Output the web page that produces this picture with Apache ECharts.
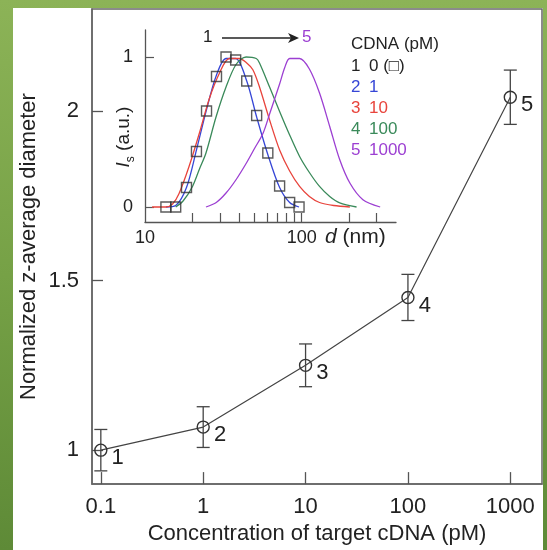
<!DOCTYPE html>
<html>
<head>
<meta charset="utf-8">
<script src="https://cdn.jsdelivr.net/npm/echarts@6/dist/echarts.min.js"></script>
<style>
html, body { margin: 0; padding: 0; }
body { width: 547px; height: 550px; position: relative; overflow: hidden;
       background: linear-gradient(180deg, #8cb357 0%, #76a146 50%, #5e8a37 100%); }
#panel { position: absolute; left: 13px; top: 8px; width: 530px; height: 542px; background: #fff; }
#main { position: absolute; left: 0; top: 0; width: 547px; height: 550px; }
</style>
</head>
<body>
<div id="panel"></div>
<div id="main"></div>
<script>
// main plot: concentration (pM) vs normalized z-average diameter
var concValues = [0.1, 1, 10, 100, 1000];
var concLabels = ['0.1', '1', '10', '100', '1000'];
var zDiameter = [1.0, 1.068, 1.25, 1.45, 2.04];
var zError = [0.061, 0.06, 0.063, 0.068, 0.08];
var pointTags = ['1', '2', '3', '4', '5'];
var zTicks = [1, 1.5, 2];

// inset: scattering intensity vs d (nm)
var dLabelTicks = [10, 100];
var dMinorTicks = [20, 30, 40, 50, 60, 70, 80, 90, 100, 200, 300];
var isTicks = [0, 1];

var sqD = [13.6, 15.7, 18.4, 21.3, 24.7, 28.6, 32.9, 37.9, 44.6, 51.6, 60.8, 72.3, 83.8, 96.2];
var sqI = [0, 0, 0.13, 0.37, 0.64, 0.87, 1.0, 0.98, 0.84, 0.61, 0.36, 0.14, 0.03, 0];
var blueI = [0, 0.01, 0.13, 0.38, 0.65, 0.88, 0.99, 0.99, 0.84, 0.6, 0.35, 0.13, 0.03, 0];

var redD = [11.1, 13.6, 15.0, 16.5, 19.1, 22.2, 25.7, 29.8, 34.5, 40, 44.6, 48.8, 53.8, 62.4, 72.3, 83.8, 97, 112, 130, 160, 203];
var redI = [0, 0, 0.02, 0.09, 0.27, 0.49, 0.72, 0.89, 0.99, 0.99, 0.96, 0.915, 0.80, 0.58, 0.38, 0.24, 0.137, 0.07, 0.03, 0.01, 0];

var greenD = [15.7, 17.5, 20.1, 22.2, 24.5, 28.4, 32.9, 38.1, 44.2, 51.3, 53.8, 62.4, 72.3, 83.8, 97, 112, 130, 151, 175, 224];
var greenI = [0, 0.04, 0.137, 0.25, 0.36, 0.6, 0.80, 0.95, 1.0, 0.99, 0.96, 0.80, 0.637, 0.48, 0.337, 0.23, 0.137, 0.07, 0.027, 0];

var purpleD = [24.5, 28.5, 32.9, 38, 44.2, 50, 56.6, 62.4, 72.3, 78, 83.8, 97, 112, 130, 151, 175, 203, 246, 317];
var purpleI = [0, 0.03, 0.093, 0.18, 0.29, 0.39, 0.49, 0.62, 0.82, 0.93, 0.99, 0.99, 0.92, 0.76, 0.537, 0.315, 0.16, 0.049, 0];

var legendNum = ['1', '2', '3', '4', '5'];
var legendConc = ['0 (\u25A1)', '1', '10', '100', '1000'];
var legendColors = ['#222222', '#3646d6', '#e8443c', '#3a8a5a', '#9c3fd2'];

function lg(v) { return Math.log10(v); }
function zip(xs, ys) {
    return xs.map(function (x, i) { return [lg(x), ys[i]]; });
}

var dom = document.getElementById('main');
var myChart = echarts.init(dom, null, { renderer: 'canvas' });

var fontFam = '"Liberation Sans", Arial, sans-serif';

var mainData = concValues.map(function (c, i) { return [lg(c), zDiameter[i]]; });
var errData = concValues.map(function (c, i) { return [lg(c), zDiameter[i] - zError[i], zDiameter[i] + zError[i]]; });

function renderErrorBar(params, api) {
    var x = api.value(0);
    var lo = api.coord([x, api.value(1)]);
    var hi = api.coord([x, api.value(2)]);
    var w = 6.5;
    var st = { stroke: '#444', lineWidth: 1.3, fill: null };
    return {
        type: 'group',
        children: [
            { type: 'line', shape: { x1: lo[0], y1: lo[1], x2: hi[0], y2: hi[1] }, style: st },
            { type: 'line', shape: { x1: lo[0] - w, y1: lo[1], x2: lo[0] + w, y2: lo[1] }, style: st },
            { type: 'line', shape: { x1: hi[0] - w, y1: hi[1], x2: hi[0] + w, y2: hi[1] }, style: st }
        ]
    };
}

// legend + arrow annotation of inset
var graphics = [];
graphics.push({ type: 'text', left: 351, top: 36, style: { text: 'CDNA (pM)', fill: '#222', font: '17px ' + fontFam } });
for (var i = 0; i < legendNum.length; i++) {
    graphics.push({ type: 'text', left: 351, top: 58 + i * 21, style: { text: legendNum[i], fill: legendColors[i], font: '17px ' + fontFam } });
    graphics.push({ type: 'text', left: 369, top: 58 + i * 21, style: { text: legendConc[i], fill: legendColors[i], font: '17px ' + fontFam } });
}
graphics.push({ type: 'text', left: 203, top: 29, style: { text: '1', fill: '#222', font: '17px ' + fontFam } });
graphics.push({ type: 'line', shape: { x1: 222, y1: 38, x2: 292, y2: 38 }, style: { stroke: '#222', lineWidth: 1.3 } });
graphics.push({ type: 'polygon', shape: { points: [[288, 33], [299, 38], [288, 43], [291, 38]] }, style: { fill: '#222' } });
graphics.push({ type: 'text', left: 302, top: 29, style: { text: '5', fill: legendColors[4], font: '17px ' + fontFam } });

var option = {
    animation: false,
    textStyle: { fontFamily: fontFam },
    graphic: graphics,
    grid: [
        { left: 92, top: 9, right: 5, bottom: 59, show: true, borderColor: '#666', borderWidth: 1.5, backgroundColor: 'transparent' },
        { left: 145, top: 30, width: 251, height: 192 }
    ],
    xAxis: [{
        type: 'value',
        gridIndex: 0,
        min: lg(0.082),
        max: lg(2040),
        splitLine: { show: false },
        axisLine: { onZero: false, lineStyle: { color: '#666', width: 1.5 } },
        axisTick: { inside: true, length: 12, customValues: concValues.map(lg), lineStyle: { color: '#555', width: 1.3 } },
        axisLabel: {
            customValues: concValues.map(lg),
            fontSize: 22, color: '#222', margin: 12,
            formatter: function (v) { return concLabels[Math.round(v) + 1]; }
        },
        name: 'Concentration of target cDNA (pM)',
        nameLocation: 'middle',
        nameGap: 37,
        nameTextStyle: { fontSize: 22, color: '#222' }
    }, {
        type: 'value',
        gridIndex: 1,
        min: 1,
        max: lg(400),
        splitLine: { show: false },
        axisLine: { onZero: false, lineStyle: { color: '#555', width: 1.3 } },
        axisTick: { inside: true, length: 9, customValues: dMinorTicks.map(lg), lineStyle: { color: '#555', width: 1.2 } },
        axisLabel: {
            customValues: dLabelTicks.map(lg),
            fontSize: 18, color: '#222', margin: 7,
            formatter: function (v) { return String(Math.round(Math.pow(10, v))); }
        },
        name: '{i|d} (nm)',
        nameLocation: 'end',
        nameGap: -71,
        nameTextStyle: {
            fontSize: 21, color: '#222', verticalAlign: 'top', padding: [5, 0, 0, 0],
            rich: { i: { fontSize: 21, fontStyle: 'italic', color: '#222' } }
        }
    }],
    yAxis: [{
        type: 'value',
        gridIndex: 0,
        min: 0.9,
        max: 2.3,
        splitLine: { show: false },
        axisLine: { show: true, onZero: false, lineStyle: { color: '#666', width: 1.5 } },
        axisTick: { show: true, inside: true, length: 11, customValues: zTicks, lineStyle: { color: '#555', width: 1.3 } },
        axisLabel: {
            customValues: zTicks,
            fontSize: 22, color: '#222', margin: 13,
            formatter: function (v) { return String(v); }
        },
        name: 'Normalized z-average diameter',
        nameLocation: 'middle',
        nameGap: 52,
        nameMoveOverlap: false,
        nameTextStyle: { fontSize: 22, color: '#222' }
    }, {
        type: 'value',
        gridIndex: 1,
        min: -0.1,
        max: 1.18,
        splitLine: { show: false },
        axisLine: { show: true, onZero: false, lineStyle: { color: '#555', width: 1.3 } },
        axisTick: { show: true, inside: true, length: 9, customValues: isTicks, lineStyle: { color: '#555', width: 1.2 } },
        axisLabel: {
            customValues: isTicks,
            fontSize: 18, color: '#222', margin: 12,
            formatter: function (v) { return String(v); }
        },
        name: '{i|I}{s|s} (a.u.)',
        nameLocation: 'middle',
        nameGap: 8,
        nameMoveOverlap: false,
        nameTextStyle: {
            fontSize: 19, color: '#222', padding: [0, 22, 0, 0],
            rich: {
                i: { fontSize: 19, fontStyle: 'italic', color: '#222' },
                s: { fontSize: 12, color: '#222', verticalAlign: 'bottom', lineHeight: 26 }
            }
        }
    }],
    series: [{
        // error bars
        type: 'custom',
        xAxisIndex: 0,
        yAxisIndex: 0,
        renderItem: renderErrorBar,
        encode: { x: 0, y: [1, 2] },
        data: errData,
        z: 3
    }, {
        type: 'line',
        xAxisIndex: 0,
        yAxisIndex: 0,
        data: mainData,
        symbol: 'circle',
        symbolSize: 12,
        lineStyle: { color: '#444', width: 1.2 },
        itemStyle: { color: 'rgba(255,255,255,0)', borderColor: '#333', borderWidth: 1.4 },
        label: {
            show: true,
            position: 'right',
            distance: 4,
            offset: [0, 8],
            fontSize: 22,
            color: '#222',
            formatter: function (p) { return pointTags[p.dataIndex]; }
        },
        z: 4
    }, {
        name: '2', type: 'line', xAxisIndex: 1, yAxisIndex: 1,
        data: zip(sqD, blueI), showSymbol: false, smooth: 0.3,
        lineStyle: { color: legendColors[1], width: 1.3 }
    }, {
        name: '3', type: 'line', xAxisIndex: 1, yAxisIndex: 1,
        data: zip(redD, redI), showSymbol: false, smooth: 0.3,
        lineStyle: { color: legendColors[2], width: 1.3 }
    }, {
        name: '4', type: 'line', xAxisIndex: 1, yAxisIndex: 1,
        data: zip(greenD, greenI), showSymbol: false, smooth: 0.3,
        lineStyle: { color: legendColors[3], width: 1.3 }
    }, {
        name: '5', type: 'line', xAxisIndex: 1, yAxisIndex: 1,
        data: zip(purpleD, purpleI), showSymbol: false, smooth: 0.3,
        lineStyle: { color: legendColors[4], width: 1.3 }
    }, {
        name: '1', type: 'scatter', xAxisIndex: 1, yAxisIndex: 1,
        data: zip(sqD, sqI),
        symbol: 'rect', symbolSize: 10,
        itemStyle: { color: 'rgba(255,255,255,0)', borderColor: '#333', borderWidth: 1.4 },
        z: 5
    }]
};

if (option && typeof option === 'object') {
    myChart.setOption(option, true);
}
</script>
</body>
</html>
